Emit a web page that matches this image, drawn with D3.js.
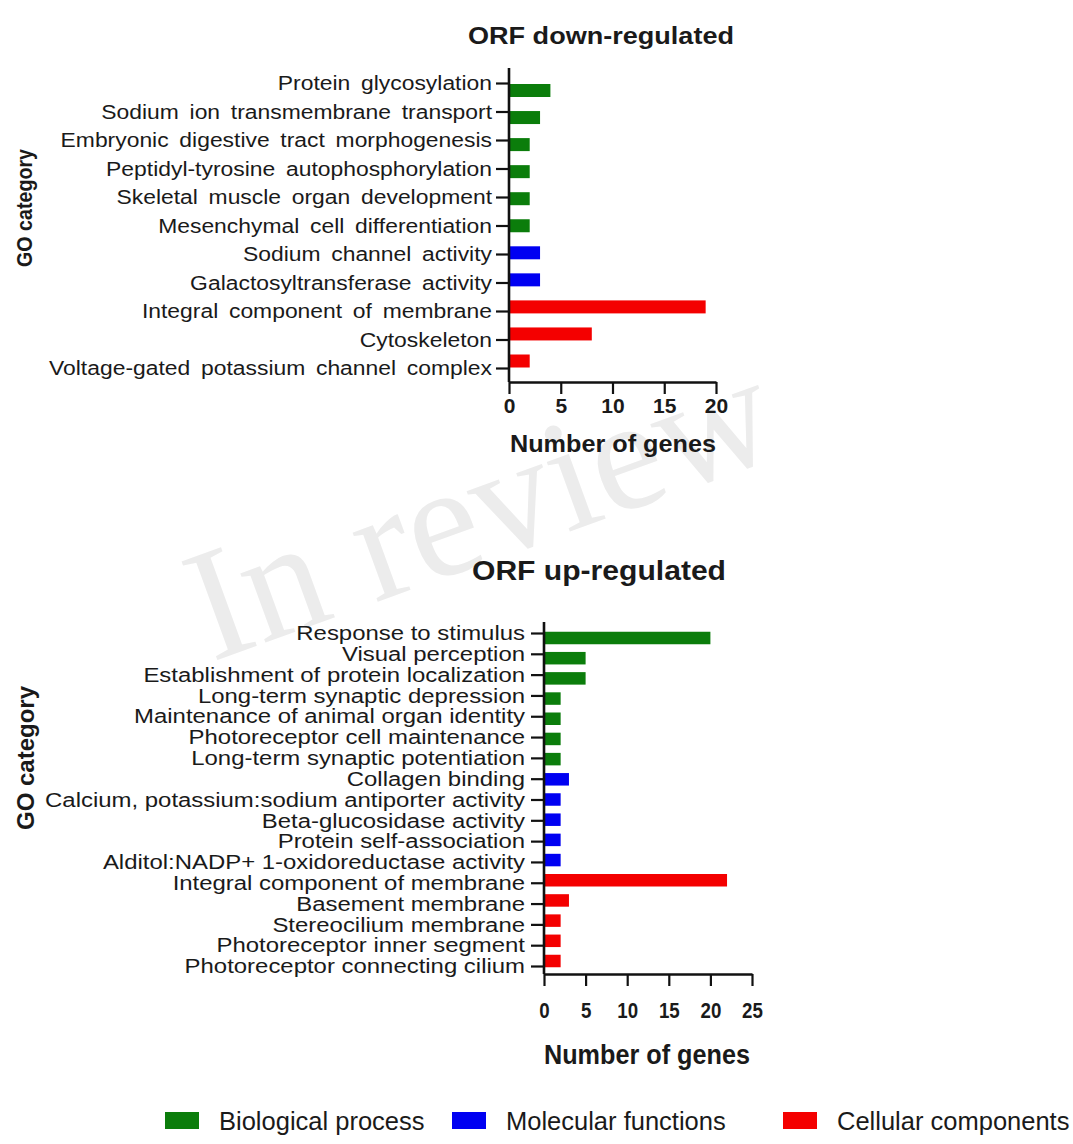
<!DOCTYPE html>
<html>
<head>
<meta charset="utf-8">
<script src="https://cdn.jsdelivr.net/npm/d3@7"></script>
<style>
  body { margin: 0; background: #fff; }
  text { font-family: "Liberation Sans", Arial, sans-serif; fill: #1a1a1a; }
</style>
</head>
<body>
<div class="container"></div>
<script>
// data
var downCategories = [
  "Protein glycosylation",
  "Sodium ion transmembrane transport",
  "Embryonic digestive tract morphogenesis",
  "Peptidyl-tyrosine autophosphorylation",
  "Skeletal muscle organ development",
  "Mesenchymal cell differentiation",
  "Sodium channel activity",
  "Galactosyltransferase activity",
  "Integral component of membrane",
  "Cytoskeleton",
  "Voltage-gated potassium channel complex"
];
var downValues = [4, 3, 2, 2, 2, 2, 3, 3, 19, 8, 2];
var downGroups = ["bp", "bp", "bp", "bp", "bp", "bp", "mf", "mf", "cc", "cc", "cc"];
var downTicks = [0, 5, 10, 15, 20];

var upCategories = [
  "Response to stimulus",
  "Visual perception",
  "Establishment of protein localization",
  "Long-term synaptic depression",
  "Maintenance of animal organ identity",
  "Photoreceptor cell maintenance",
  "Long-term synaptic potentiation",
  "Collagen binding",
  "Calcium, potassium:sodium antiporter activity",
  "Beta-glucosidase activity",
  "Protein self-association",
  "Alditol:NADP+ 1-oxidoreductase activity",
  "Integral component of membrane",
  "Basement membrane",
  "Stereocilium membrane",
  "Photoreceptor inner segment",
  "Photoreceptor connecting cilium"
];
var upValues = [20, 5, 5, 2, 2, 2, 2, 3, 2, 2, 2, 2, 22, 3, 2, 2, 2];
var upGroups = ["bp", "bp", "bp", "bp", "bp", "bp", "bp", "mf", "mf", "mf", "mf", "mf", "cc", "cc", "cc", "cc", "cc"];
var upTicks = [0, 5, 10, 15, 20, 25];

var groupKeys = ["bp", "mf", "cc"];
var groupLabels = ["Biological process", "Molecular functions", "Cellular components"];

var color = d3.scaleOrdinal()
  .domain(groupKeys)
  .range(["#0b7d0b", "#0000f2", "#f40000"]);

var w = 1073, h = 1144;

var svg = d3.select(".container")
  .append("svg")
  .attr("width", w)
  .attr("height", h);

// watermark
svg.append("text")
  .attr("transform", "translate(212,662) rotate(-20)")
  .style("font-family", "'Liberation Serif', 'Times New Roman', serif")
  .style("font-size", "160px")
  .style("fill", "#ececec")
  .text("In review");

function drawPanel(p) {
  var g = svg.append("g");

  var x = d3.scaleLinear()
    .domain([0, p.xMax])
    .range([p.axisX, p.axisX + p.xWidth]);

  // ticks / labels and bars sit on slightly different grids in the source
  var yTick = d3.scalePoint().domain(p.categories).range([p.tickY0, p.tickY1]);
  var yBar = d3.scalePoint().domain(p.categories).range([p.barY0, p.barY1]);

  // title
  g.append("text")
    .attr("x", p.titleX)
    .attr("y", p.titleY)
    .attr("text-anchor", "middle")
    .attr("textLength", p.titleLen)
    .attr("lengthAdjust", "spacingAndGlyphs")
    .style("font-size", p.titleSize + "px")
    .style("font-weight", "bold")
    .text(p.title);

  // bars
  g.selectAll("rect.bar")
    .data(p.values)
    .enter()
    .append("rect")
    .attr("class", "bar")
    .attr("x", x(0))
    .attr("y", function(d, i) { return yBar(p.categories[i]) - p.barH / 2; })
    .attr("width", function(d) { return x(d) - x(0); })
    .attr("height", p.barH)
    .style("fill", function(d, i) { return color(p.groups[i]); });

  // y axis
  var yAxis = d3.axisLeft(yTick)
    .tickSize(p.tickLen)
    .tickPadding(p.labelPad);

  var yAxisGroup = g.append("g")
    .attr("transform", "translate(" + p.axisX + ",0)")
    .call(yAxis);

  yAxisGroup.select(".domain").remove();
  yAxisGroup.selectAll(".tick line")
    .attr("stroke", "#111")
    .attr("stroke-width", 2.2);
  yAxisGroup.selectAll(".tick text")
    .style("font-size", p.labelSize + "px")
    .style("word-spacing", p.wordSpacing + "px")
    .attr("x", -(p.tickLen + p.labelPad) / p.labelScale)
    .attr("transform", "scale(" + p.labelScale + ",1)");

  g.append("line")
    .attr("x1", p.axisX)
    .attr("x2", p.axisX)
    .attr("y1", p.axisTop)
    .attr("y2", p.xAxisY)
    .attr("stroke", "#111")
    .attr("stroke-width", 2.6);

  // x axis
  var xAxis = d3.axisBottom(x)
    .tickValues(p.ticks)
    .tickSize(p.xTickLen)
    .tickSizeOuter(0)
    .tickFormat(d3.format("d"));

  var xAxisGroup = g.append("g")
    .attr("transform", "translate(0," + p.xAxisY + ")")
    .call(xAxis);

  xAxisGroup.select(".domain")
    .attr("stroke", "#111")
    .attr("stroke-width", 2.6);
  xAxisGroup.selectAll(".tick line")
    .attr("stroke", "#111")
    .attr("stroke-width", 2.2);
  xAxisGroup.selectAll(".tick text")
    .attr("y", p.numBase)
    .attr("dy", null)
    .attr("transform", "scale(" + p.numScale + ",1)")
    .style("font-size", p.numSize + "px")
    .style("font-weight", "bold");

  // x title
  g.append("text")
    .attr("x", p.xTitleX)
    .attr("y", p.xTitleY)
    .attr("text-anchor", "middle")
    .attr("textLength", p.xTitleLen)
    .attr("lengthAdjust", "spacingAndGlyphs")
    .style("font-size", p.xTitleSize + "px")
    .style("font-weight", "bold")
    .text("Number of genes");

  // y title
  g.append("text")
    .attr("transform", "translate(" + p.yTitleX + "," + p.yTitleY + ") rotate(-90)")
    .attr("text-anchor", "middle")
    .attr("textLength", p.yTitleLen)
    .attr("lengthAdjust", "spacingAndGlyphs")
    .style("font-size", p.yTitleSize + "px")
    .style("font-weight", "bold")
    .text("GO category");
}

drawPanel({
  title: "ORF down-regulated", titleX: 601, titleY: 44, titleSize: 24, titleLen: 266,
  categories: downCategories, values: downValues, groups: downGroups, ticks: downTicks,
  xMax: 20, axisX: 509, xWidth: 207,
  axisTop: 68, tickY0: 83, tickY1: 368, barY0: 90.5, barY1: 361, barH: 13,
  xAxisY: 382, tickLen: 13, labelPad: 4,
  labelSize: 21, labelScale: 1.09, wordSpacing: 4,
  xTickLen: 12, numBase: 31, numSize: 21, numScale: 1.0,
  xTitleX: 613, xTitleY: 452, xTitleLen: 206, xTitleSize: 24,
  yTitleX: 32, yTitleY: 208, yTitleLen: 118, yTitleSize: 22
});

drawPanel({
  title: "ORF up-regulated", titleX: 599, titleY: 580, titleSize: 27, titleLen: 254,
  categories: upCategories, values: upValues, groups: upGroups, ticks: upTicks,
  xMax: 25, axisX: 544, xWidth: 208,
  axisTop: 622, tickY0: 633, tickY1: 966, barY0: 638, barY1: 961, barH: 12.5,
  xAxisY: 974, tickLen: 13, labelPad: 6,
  labelSize: 21, labelScale: 1.14, wordSpacing: 0,
  xTickLen: 12, numBase: 44, numSize: 22, numScale: 0.85,
  xTitleX: 647, xTitleY: 1064, xTitleLen: 206, xTitleSize: 28,
  yTitleX: 34, yTitleY: 758, yTitleLen: 144, yTitleSize: 24
});

// legend
var legendX = [165, 452, 783];
var legend = svg.append("g");

var items = legend.selectAll("g")
  .data(groupKeys)
  .enter()
  .append("g")
  .attr("transform", function(d, i) { return "translate(" + legendX[i] + ",1112)"; });

items.append("rect")
  .attr("width", 34)
  .attr("height", 17)
  .style("fill", function(d) { return color(d); });

items.append("text")
  .attr("x", 54)
  .attr("y", 18)
  .style("font-size", "25.5px")
  .text(function(d, i) { return groupLabels[i]; });
</script>
</body>
</html>
